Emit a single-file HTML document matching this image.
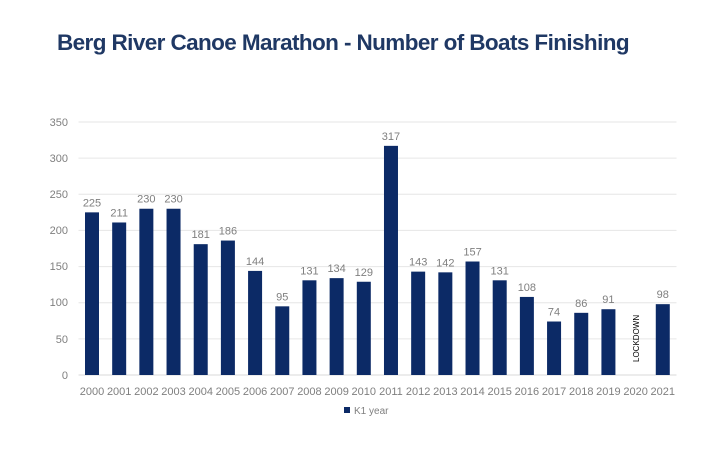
<!DOCTYPE html>
<html><head><meta charset="utf-8"><style>
body{margin:0;background:#fff;}
</style></head><body>
<svg width="720" height="450" xmlns="http://www.w3.org/2000/svg" font-family="Liberation Sans, sans-serif">
<text x="57" y="50" font-size="22.5" font-weight="bold" fill="#1f3864" letter-spacing="-0.6">Berg River Canoe Marathon - Number of Boats Finishing</text>
<g stroke="#e6e6e6" stroke-width="1">
<line x1="78.5" x2="676.5" y1="122" y2="122"/>
<line x1="78.5" x2="676.5" y1="158.1" y2="158.1"/>
<line x1="78.5" x2="676.5" y1="194.3" y2="194.3"/>
<line x1="78.5" x2="676.5" y1="230.4" y2="230.4"/>
<line x1="78.5" x2="676.5" y1="266.6" y2="266.6"/>
<line x1="78.5" x2="676.5" y1="302.7" y2="302.7"/>
<line x1="78.5" x2="676.5" y1="338.9" y2="338.9"/>
</g>
<line x1="78.5" x2="676.5" y1="375" y2="375" stroke="#d9d9d9"/>
<g font-size="11" fill="#7f7f7f" text-anchor="end">
<text x="68" y="126">350</text><text x="68" y="162">300</text><text x="68" y="198">250</text>
<text x="68" y="234">200</text><text x="68" y="270">150</text><text x="68" y="306">100</text>
<text x="68" y="343">50</text><text x="68" y="379">0</text>
</g>
<g fill="#0c2a66">
<rect x="85" y="212.36" width="14" height="162.64"/>
<rect x="112.18" y="222.48" width="14" height="152.52"/>
<rect x="139.36" y="208.74" width="14" height="166.26"/>
<rect x="166.54" y="208.74" width="14" height="166.26"/>
<rect x="193.72" y="244.16" width="14" height="130.84"/>
<rect x="220.9" y="240.55" width="14" height="134.45"/>
<rect x="248.08" y="270.91" width="14" height="104.09"/>
<rect x="275.26" y="306.33" width="14" height="68.67"/>
<rect x="302.44" y="280.31" width="14" height="94.69"/>
<rect x="329.62" y="278.14" width="14" height="96.86"/>
<rect x="356.8" y="281.75" width="14" height="93.25"/>
<rect x="383.98" y="145.85" width="14" height="229.15"/>
<rect x="411.16" y="271.63" width="14" height="103.37"/>
<rect x="438.34" y="272.35" width="14" height="102.65"/>
<rect x="465.52" y="261.51" width="14" height="113.49"/>
<rect x="492.7" y="280.31" width="14" height="94.69"/>
<rect x="519.88" y="296.93" width="14" height="78.07"/>
<rect x="547.06" y="321.51" width="14" height="53.49"/>
<rect x="574.24" y="312.83" width="14" height="62.17"/>
<rect x="601.42" y="309.22" width="14" height="65.78"/>
<rect x="655.78" y="304.16" width="14" height="70.84"/>
</g>
<g font-size="11" fill="#7f7f7f" text-anchor="middle">
<text x="92" y="206.4">225</text>
<text x="119.18" y="216.5">211</text>
<text x="146.36" y="202.7">230</text>
<text x="173.54" y="202.7">230</text>
<text x="200.72" y="238.2">181</text>
<text x="227.9" y="234.6">186</text>
<text x="255.08" y="264.9">144</text>
<text x="282.26" y="300.3">95</text>
<text x="309.44" y="274.3">131</text>
<text x="336.62" y="272.1">134</text>
<text x="363.8" y="275.8">129</text>
<text x="390.98" y="139.9">317</text>
<text x="418.16" y="265.6">143</text>
<text x="445.34" y="266.4">142</text>
<text x="472.52" y="255.5">157</text>
<text x="499.7" y="274.3">131</text>
<text x="526.88" y="290.9">108</text>
<text x="554.06" y="315.5">74</text>
<text x="581.24" y="306.8">86</text>
<text x="608.42" y="303.2">91</text>
<text x="662.78" y="298.2">98</text>
</g>
<g font-size="11" fill="#7f7f7f" text-anchor="middle">
<text x="92" y="395">2000</text><text x="119.18" y="395">2001</text><text x="146.36" y="395">2002</text>
<text x="173.54" y="395">2003</text><text x="200.72" y="395">2004</text><text x="227.9" y="395">2005</text>
<text x="255.08" y="395">2006</text><text x="282.26" y="395">2007</text><text x="309.44" y="395">2008</text>
<text x="336.62" y="395">2009</text><text x="363.8" y="395">2010</text><text x="390.98" y="395">2011</text>
<text x="418.16" y="395">2012</text><text x="445.34" y="395">2013</text><text x="472.52" y="395">2014</text>
<text x="499.7" y="395">2015</text><text x="526.88" y="395">2016</text><text x="554.06" y="395">2017</text>
<text x="581.24" y="395">2018</text><text x="608.42" y="395">2019</text><text x="635.6" y="395">2020</text>
<text x="662.78" y="395">2021</text>
</g>
<text transform="translate(639,362) rotate(-90)" font-size="8" fill="#000">LOCKDOWN</text>
<rect x="344" y="407" width="6" height="6" fill="#0c2a66"/>
<text x="354" y="414" font-size="10" fill="#7f7f7f">K1 year</text>
</svg>
</body></html>
